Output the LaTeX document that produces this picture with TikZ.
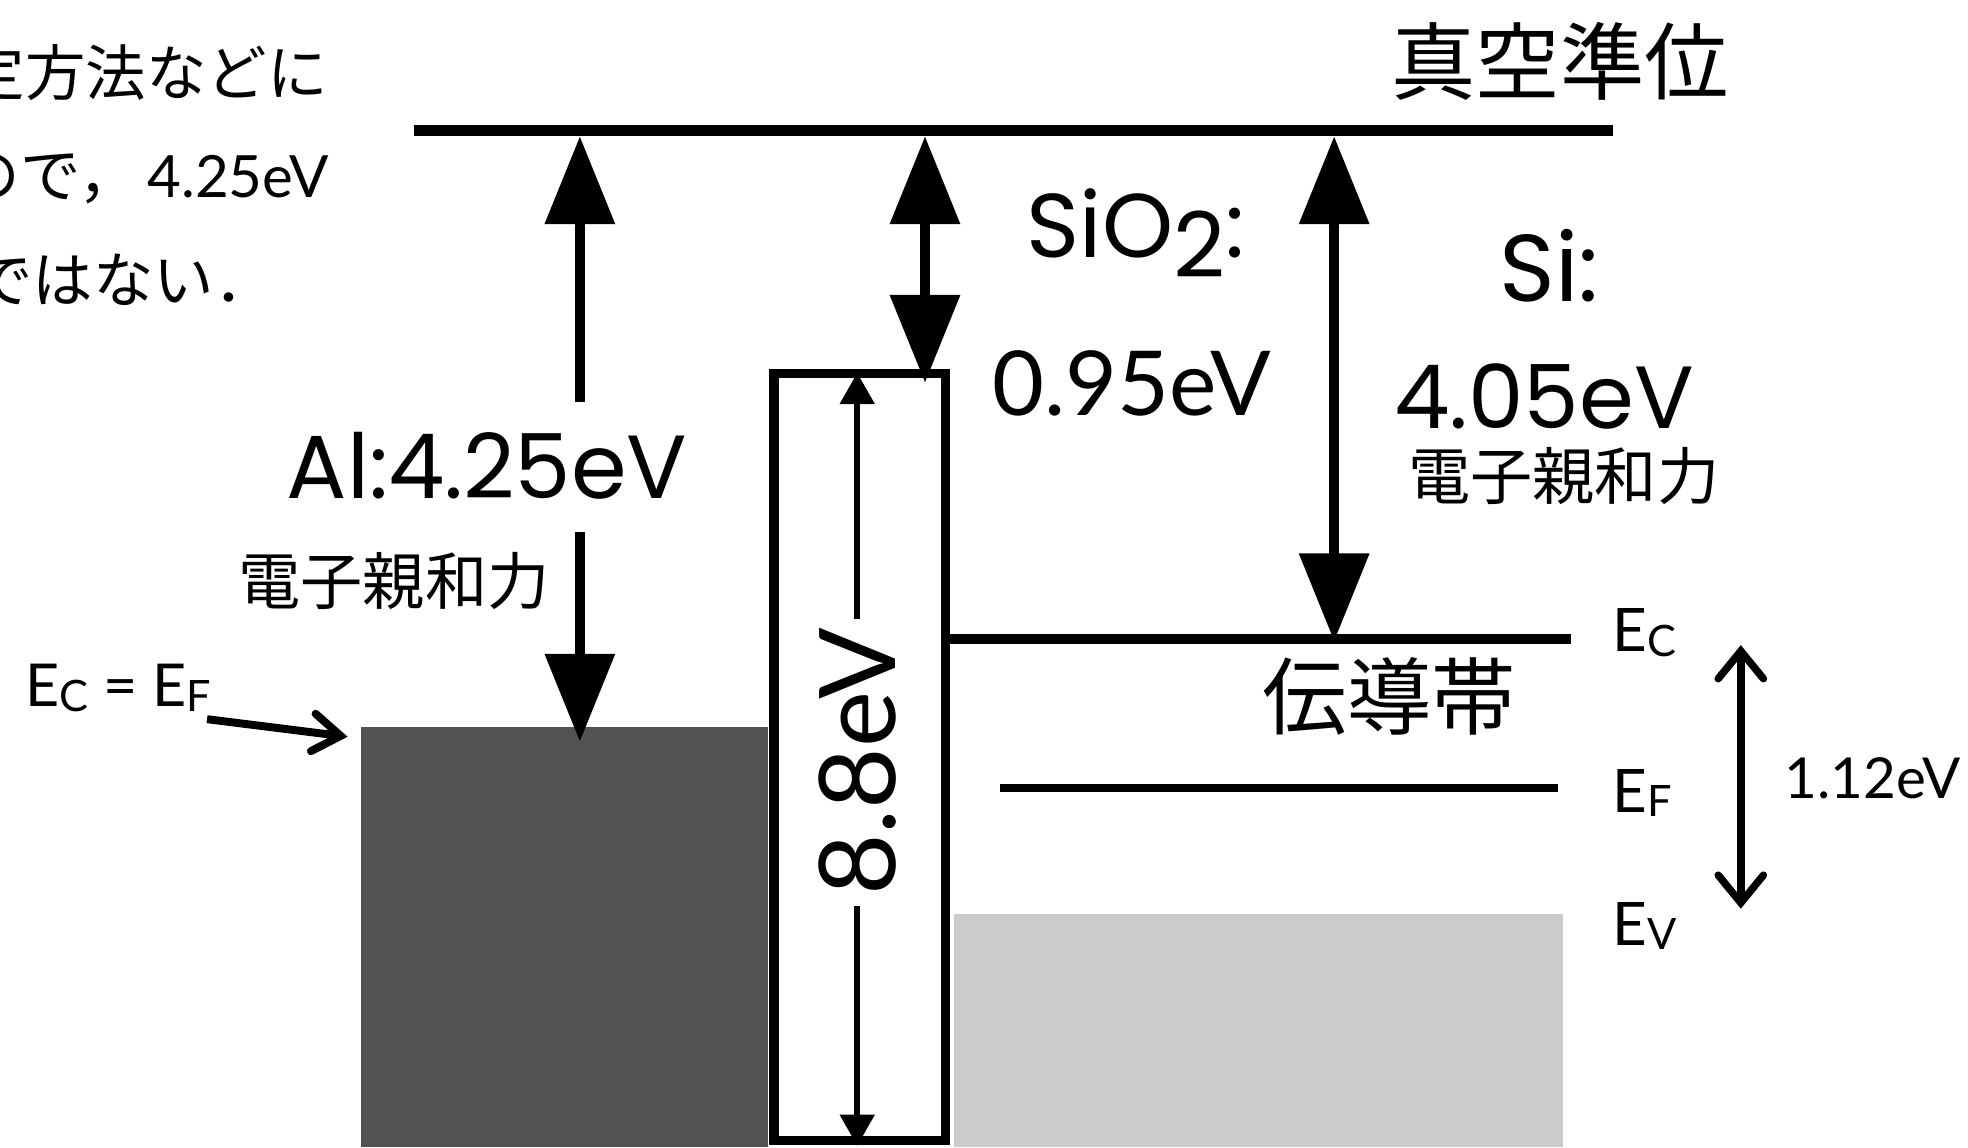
\documentclass[tikz,border=0pt]{standalone}
\usepackage{fontspec}
\newfontfamily\jp{Noto Sans CJK JP}
\newfontfamily\gill{Lato}
\newfontfamily\geo{Poppins}
\usetikzlibrary{arrows.meta}
\definecolor{metal}{HTML}{525252}
\definecolor{valence}{HTML}{CBCBCB}
\newcommand{\fs}[1]{\fontsize{#1}{#1}\selectfont}
\newcommand{\lvl}[1]{E\raisebox{-1.1pt}{\fs{9.8pt}#1}}
\begin{document}
\begin{tikzpicture}[x=0.01cm,y=-0.01cm,
  txt/.style={inner sep=0pt, outer sep=0pt},
  bigtip/.style={line width=2.4pt},
  level/.style={line width=2.3pt},
  tri/.tip={Triangle[length=0.7cm,width=0.54cm]},
  smalltri/.tip={Triangle[length=0.25cm,width=0.27cm]},
  barb/.tip={Straight Barb[length=0.22cm,width=0.36cm,line cap=round]}]
\useasboundingbox (0,0) rectangle (1568,914);
% blocks
\fill[metal] (288,579) rectangle (612,914);
\fill[valence] (760,728) rectangle (1245,914);
\draw[line width=2.1pt, fill=white] (616.75,297.75) rectangle (753.25,908.5);
% levels
\coordinate (vacL) at (330,104);
\coordinate (vacR) at (1285,104);
\draw[line width=2.4pt] (vacL) -- (vacR);
\coordinate (ecL) at (757,509);
\coordinate (ecR) at (1252,509);
\draw[level] (ecL) -- (ecR);
\coordinate (efL) at (797,628);
\coordinate (efR) at (1241,628);
\draw[line width=1.85pt] (efL) -- (efR);
% Al arrow
\coordinate (alTop) at (462,108.5);
\coordinate (alGapT) at (462,320);
\coordinate (alGapB) at (462,424);
\coordinate (alBot) at (462,591);
\draw[bigtip,-{tri}] (alGapT) -- (alTop);
\draw[bigtip,-{tri}] (alGapB) -- (alBot);
% SiO2 arrow
\coordinate (oxTop) at (737,108.5);
\coordinate (oxBot) at (737,305);
\draw[bigtip,{tri}-{tri}] (oxTop) -- (oxBot);
% Si arrow
\coordinate (siTop) at (1063,108.5);
\coordinate (siBot) at (1063,511);
\draw[bigtip,{tri}-{tri}] (siTop) -- (siBot);
% 8.8 eV arrow
\coordinate (gTop) at (683,297);
\coordinate (gGapT) at (683,493);
\coordinate (gGapB) at (683,722);
\coordinate (gBot) at (683,913);
\draw[line width=1.3pt,-{smalltri}] (gGapT) -- (gTop);
\draw[line width=1.3pt,-{smalltri}] (gGapB) -- (gBot);
\node[txt, rotate=90] (gap) at (683,607) {\gill\fs{24pt}8.8eV};
% band gap arrow
\coordinate (bgTop) at (1387,514);
\coordinate (bgBot) at (1387,724);
\draw[line width=1.7pt,{barb}-{barb}] (bgTop) -- (bgBot);
\node[txt, anchor=base west] (bglab) at (1422,636) {\gill\fs{12.8pt}1.12eV};
% level labels
\node[txt, anchor=base west] (ec) at (1285,519) {\gill\fs{13.6pt}\lvl{C}};
\node[txt, anchor=base west] (ef) at (1285,647) {\gill\fs{13.6pt}\lvl{F}};
\node[txt, anchor=base west] (ev) at (1285,753) {\gill\fs{13.6pt}\lvl{V}};
% Ec = EF
\node[txt, anchor=base west] (ecef) at (20,563) {\gill\fs{13.4pt}\lvl{C} = \lvl{F}};
\coordinate (ecefA) at (165,573);
\coordinate (alCorner) at (277,587);
\draw[line width=1.8pt,-{Straight Barb[length=0.22cm,width=0.3cm,line cap=round]}] (ecefA) -- (alCorner);
% headings
\node[txt] (vac) at (1243,49) {\jp\fs{19.1pt}真空準位};
\node[txt] (cb) at (1107,555) {\jp\fs{19.1pt}伝導帯};
\node[txt] (eaL) at (314,463) {\jp\fs{14.1pt}電子親和力};
\node[txt, anchor=base, text height=0.8em, text depth=0pt] (eaR) at (1246,398) {\jp\fs{14.1pt}電子親和力};
% value labels
\node[txt] (al) at (388,371) {\geo\fs{20.3pt}Al:4.25eV};
\node[txt, anchor=base west] (ox) at (818,205) {\geo\fs{20.5pt}SiO\raisebox{-4.5pt}{2}:};
\node[txt, anchor=base west] (oxv) at (791,331) {\gill\fs{20.3pt}0.95eV};
\node[txt, anchor=base west] (si) at (1195,240) {\geo\fs{21.5pt}Si:};
\node[txt, anchor=base west, text depth=0pt] (siv) at (1111,341) {\geo\fs{20pt}4.05eV};
% clipped note text at top left
\begin{scope}
\clip (0,0) rectangle (1568,914);
\node[txt, anchor=base west] (n1) at (-28,76) {\jp\fs{13.7pt}定方法などに};
\node[txt, anchor=base west] (n2) at (-32,157) {\jp\fs{13.7pt}ので，\hspace{2pt}{\gill\fs{13.2pt}4.25eV}};
\node[txt, anchor=base west] (n3) at (-22,241) {\jp\fs{13.7pt}ではない．};
\end{scope}
\end{tikzpicture}
\end{document}
